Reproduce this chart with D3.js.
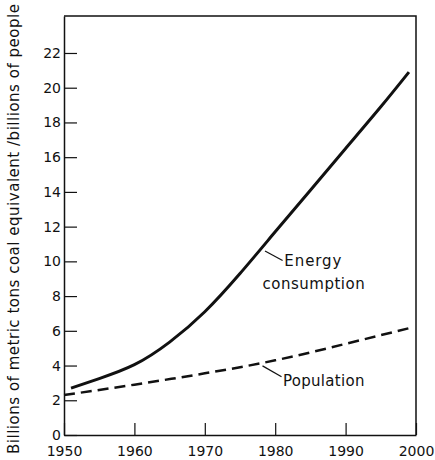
<!DOCTYPE html>
<html>
<head>
<meta charset="utf-8">
<script src="https://cdn.jsdelivr.net/npm/d3@7"></script>
<style>
  body { margin: 0; background: #fff; }
  svg text { font-family: "DejaVu Sans", sans-serif; fill: #111; }
</style>
</head>
<body>
<div id="chart"></div>
<script>
// data
var energyYears = [1951, 1955, 1960, 1965, 1970, 1975, 1980, 1985, 1990, 1995, 1999];
var energyValues = [2.7, 3.25, 4.05, 5.35, 7.1, 9.3, 11.7, 14.1, 16.5, 18.9, 20.9];
var popYears = [1950, 1960, 1970, 1980, 1990, 1999.5];
var popValues = [2.3, 2.9, 3.55, 4.3, 5.25, 6.2];
var xTicks = [1950, 1960, 1970, 1980, 1990, 2000];
var yTicks = [0, 2, 4, 6, 8, 10, 12, 14, 16, 18, 20, 22];
var yTitle = "Billions of metric tons coal equivalent /billions of people";

var width = 435, height = 460;
var margin = {top: 16, right: 19, bottom: 25, left: 64};

var svg = d3.select("#chart").append("svg")
    .attr("width", width)
    .attr("height", height);

var x = d3.scaleLinear()
    .domain([1950, 2000])
    .range([margin.left, width - margin.right]);

var y = d3.scaleLinear()
    .domain([0, 24.13])
    .range([height - margin.bottom, margin.top]);

// frame top + right
svg.append("path")
    .attr("d", "M" + x(1950) + "," + y(24.13) + "H" + x(2000) + "V" + y(0))
    .attr("fill", "none")
    .attr("stroke", "#111")
    .attr("stroke-width", 1.5);

// axes, ticks point inward
var yAxis = svg.append("g")
    .attr("transform", "translate(" + x(1950) + ",0)")
    .call(d3.axisLeft(y).tickValues(yTicks).tickSizeInner(-13).tickSizeOuter(0).tickPadding(3));

var xAxis = svg.append("g")
    .attr("transform", "translate(0," + y(0) + ")")
    .call(d3.axisBottom(x).tickValues(xTicks).tickFormat(d3.format("d")).tickSizeInner(-12).tickSizeOuter(0).tickPadding(11));

[yAxis, xAxis].forEach(function (g) {
    g.select(".domain").attr("stroke", "#111").attr("stroke-width", 1.5);
    g.selectAll(".tick line").attr("stroke", "#111").attr("stroke-width", 1.2);
    g.selectAll(".tick text")
        .style("font-family", "DejaVu Sans, sans-serif")
        .style("font-size", "14px")
        .attr("fill", "#111");
});

// y title
svg.append("text")
    .attr("transform", "translate(19," + 229 + ") rotate(-90)")
    .attr("text-anchor", "middle")
    .attr("textLength", 450)
    .attr("lengthAdjust", "spacing")
    .style("font-size", "15px")
    .text(yTitle);

// lines
var line = d3.line()
    .x(function (d) { return x(d[0]); })
    .y(function (d) { return y(d[1]); })
    .curve(d3.curveNatural);

var energy = energyYears.map(function (yr, i) { return [yr, energyValues[i]]; });
var pop = popYears.map(function (yr, i) { return [yr, popValues[i]]; });

svg.append("path")
    .datum(energy)
    .attr("d", line)
    .attr("fill", "none")
    .attr("stroke", "#111")
    .attr("stroke-width", 3);

svg.append("path")
    .datum(pop)
    .attr("d", line)
    .attr("fill", "none")
    .attr("stroke", "#111")
    .attr("stroke-width", 2.5)
    .attr("stroke-dasharray", "11,6");

// labels with leader lines
svg.append("line")
    .attr("x1", x(1978.55)).attr("y1", y(10.6))
    .attr("x2", x(1981.05)).attr("y2", y(10.05))
    .attr("stroke", "#111").attr("stroke-width", 1.2);

svg.append("text")
    .attr("x", x(1981.3)).attr("y", y(9.73))
    .style("font-size", "15px")
    .style("letter-spacing", "0.9px")
    .text("Energy");

svg.append("text")
    .attr("x", x(1978.2)).attr("y", y(8.4))
    .style("font-size", "15px")
    .style("letter-spacing", "0.5px")
    .text("consumption");

svg.append("line")
    .attr("x1", x(1978.2)).attr("y1", y(3.98))
    .attr("x2", x(1980.9)).attr("y2", y(3.35))
    .attr("stroke", "#111").attr("stroke-width", 1.2);

svg.append("text")
    .attr("x", x(1981.1)).attr("y", y(2.82))
    .style("font-size", "15px")
    .style("letter-spacing", "0.3px")
    .text("Population");
</script>
</body>
</html>
